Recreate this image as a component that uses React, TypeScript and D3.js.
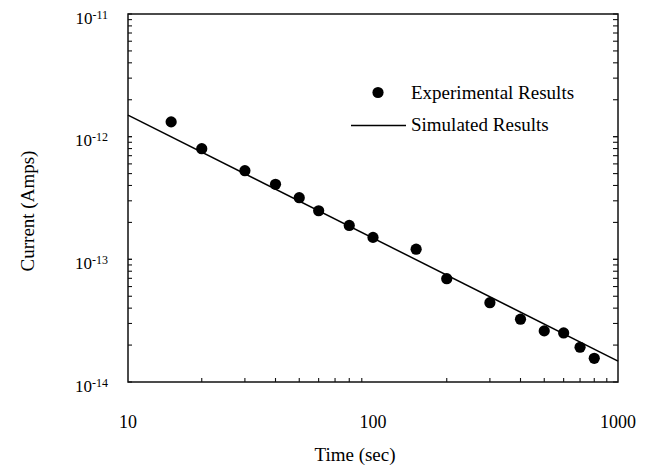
import React from "react";
import * as d3 from "d3";

// Experimental data: time (sec) and current (Amps)
const expTime = [15, 20, 30, 40, 50, 60, 80, 100, 150, 200, 300, 400, 500, 600, 700, 800];
const expCurrent = [
  1.32e-12, 7.98e-13, 5.28e-13, 4.09e-13, 3.18e-13, 2.49e-13, 1.89e-13, 1.51e-13,
  1.21e-13, 6.95e-14, 4.43e-14, 3.25e-14, 2.61e-14, 2.51e-14, 1.92e-14, 1.56e-14,
];
// Simulated results (straight line on log-log axes)
const simTime = [10, 1000];
const simCurrent = [1.5e-12, 1.48e-14];

const xTickValues = [10, 100, 1000];
const xTickLabels = ["10", "100", "1000"];
const yTickValues = [1e-11, 1e-12, 1e-13, 1e-14];
const yTickExponents = ["-11", "-12", "-13", "-14"];

const legendLabels = ["Experimental Results", "Simulated Results"];
const xTitle = "Time (sec)";
const yTitle = "Current (Amps)";

const W = 647;
const H = 469;
const M = { left: 128, right: 618, top: 14, bottom: 382 };
const FONT = "'Liberation Serif', 'Times New Roman', serif";

export default function App() {
  const x = d3.scaleLog().domain([10, 1000]).range([M.left, M.right]);
  const y = d3.scaleLog().domain([1e-14, 1e-11]).range([M.bottom, M.top]);

  const xMinor: number[] = [];
  for (let d = 10; d < 1000; d *= 10) for (let k = 2; k <= 9; k++) xMinor.push(d * k);
  const yMinor: number[] = [];
  for (let d = 1e-14; d < 1e-11 * 0.99; d *= 10) for (let k = 1; k <= 10; k++) yMinor.push(d * k);

  const line = d3
    .line<number>()
    .x((_, i) => x(simTime[i]))
    .y((d) => y(d));

  const tick = 4;
  const stroke = "#111";

  return (
    <svg
      width={W}
      height={H}
      style={{ position: "absolute", left: 0, top: 0, background: "#fff" }}
      fontFamily={FONT}
    >
      {/* frame: no ticks on top */}
      <rect
        x={M.left}
        y={M.top}
        width={M.right - M.left}
        height={M.bottom - M.top}
        fill="none"
        stroke={stroke}
        strokeWidth={1.5}
      />
      {/* bottom ticks */}
      {xMinor.map((v, i) => (
        <line key={"xb" + i} x1={x(v)} x2={x(v)} y1={M.bottom} y2={M.bottom - tick} stroke={stroke} strokeWidth={1.1} />
      ))}
      {/* left & right ticks */}
      {yMinor.map((v, i) => (
        <g key={"yt" + i}>
          <line x1={M.left} x2={M.left + tick} y1={y(v)} y2={y(v)} stroke={stroke} strokeWidth={1.1} />
          <line x1={M.right} x2={M.right - tick - 1} y1={y(v)} y2={y(v)} stroke={stroke} strokeWidth={1.1} />
        </g>
      ))}
      {/* x tick labels */}
      {xTickValues.map((v, i) => (
        <text key={"xl" + i} x={x(v)} y={M.bottom + 46} textAnchor="middle" fontSize={18} fill="#000">
          {xTickLabels[i]}
        </text>
      ))}
      {/* y tick labels */}
      {yTickValues.map((v, i) => (
        <text key={"yl" + i} x={M.left - 20} y={y(v) + 9.5} textAnchor="end" fontSize={17} fill="#000">
          10
          <tspan fontSize={12} dy={-5}>
            {yTickExponents[i]}
          </tspan>
        </text>
      ))}
      {/* titles */}
      <text x={355} y={461} textAnchor="middle" fontSize={19} fill="#000">
        {xTitle}
      </text>
      <text
        transform={`translate(34, ${y(Math.sqrt(1e-12 * 1e-13)) + 13}) rotate(-90)`}
        textAnchor="middle"
        fontSize={19}
        fill="#000"
      >
        {yTitle}
      </text>
      {/* simulated line */}
      <path d={line(simCurrent) || ""} fill="none" stroke="#000" strokeWidth={1.5} />
      {/* experimental points */}
      {expTime.map((t, i) => (
        <circle key={"p" + i} cx={x(t)} cy={y(expCurrent[i])} r={5.6} fill="#000" />
      ))}
      {/* legend */}
      <circle cx={378} cy={92.5} r={5.6} fill="#000" />
      <text x={411} y={99} fontSize={19} fill="#000">
        {legendLabels[0]}
      </text>
      <line x1={351} x2={406} y1={125.5} y2={125.5} stroke="#000" strokeWidth={1.3} />
      <text x={411} y={131} fontSize={19} fill="#000">
        {legendLabels[1]}
      </text>
    </svg>
  );
}
